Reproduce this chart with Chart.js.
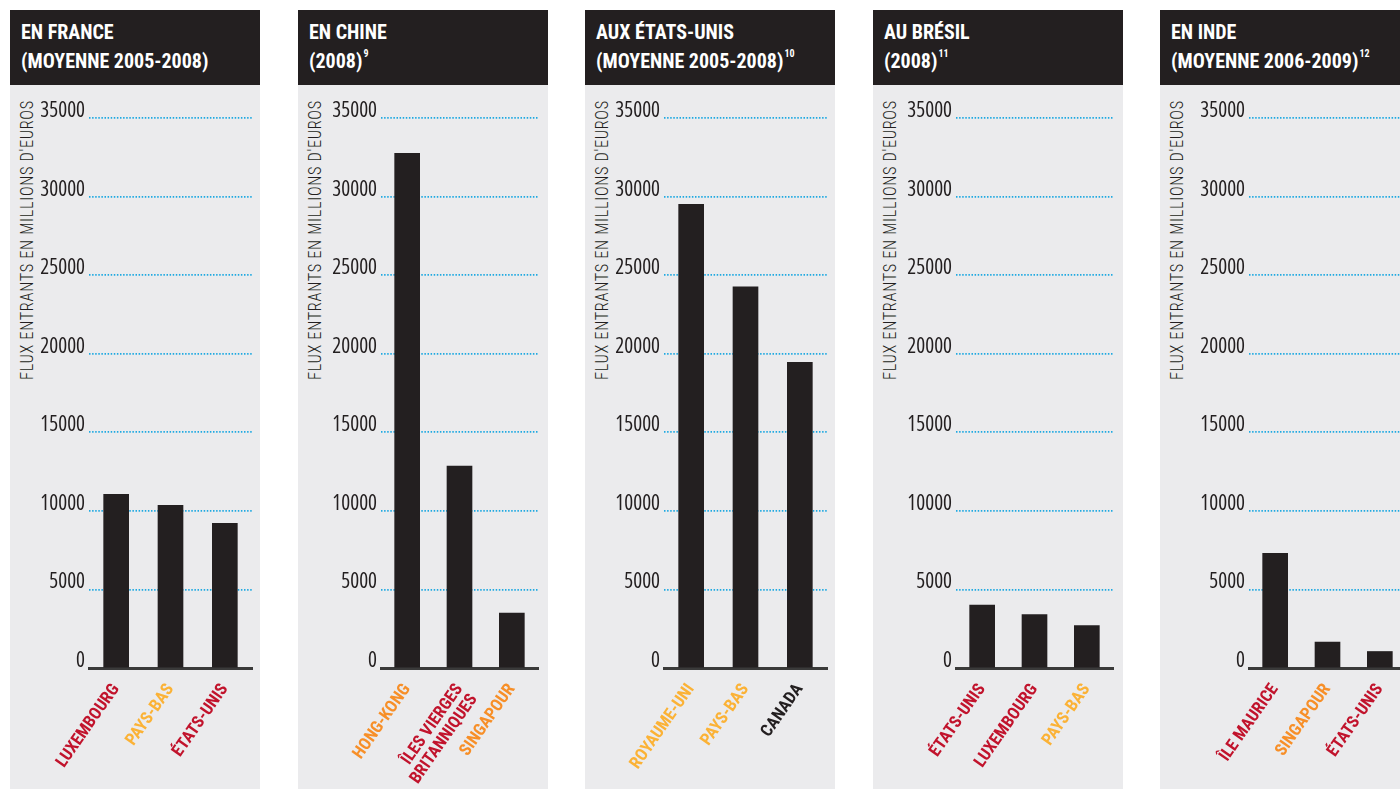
<!DOCTYPE html>
<html lang="fr">
<head>
<meta charset="utf-8">
<title>Flux entrants d'investissements</title>
<script src="https://cdn.jsdelivr.net/npm/chart.js@4.4.1/dist/chart.umd.min.js"></script>
<style>
  html, body { margin: 0; padding: 0; background: #ffffff; width: 1400px; height: 789px; overflow: hidden; }
  .panel { position: absolute; top: 10px; width: 250px; height: 779px; background: #ebebed; }
  .head {
    position: absolute; left: 0; top: 0; width: 250px; height: 75px; box-sizing: border-box;
    padding: 8px 11px; background: #231f20; color: #ffffff;
    font-family: "Roboto", sans-serif; font-stretch: 75%;
    font-weight: bold; font-size: 20px; line-height: 29px; white-space: nowrap;
  }
  .head sup { font-size: 10px; line-height: 0; position: relative; top: -3px; margin-left: 1px; }
  .ytitle {
    position: absolute; left: 0; top: 0; white-space: nowrap; transform-origin: 0 0;
    font-family: "Roboto", sans-serif; font-stretch: 75%; font-weight: 300;
    font-size: 19px; line-height: 20px; letter-spacing: 0.8px; color: #231f20;
  }
  .plot { position: absolute; left: 0; top: 75px; width: 250px; height: 704px; }
</style>
</head>
<body>
<script>
// Panel headings
const titleLines = [
  ["EN FRANCE", "(MOYENNE 2005-2008)"],
  ["EN CHINE", "(2008)"],
  ["AUX ÉTATS-UNIS", "(MOYENNE 2005-2008)"],
  ["AU BRÉSIL", "(2008)"],
  ["EN INDE", "(MOYENNE 2006-2009)"]
];
const titleNotes = ["", "9", "10", "11", "12"];
const axisTitle = "FLUX ENTRANTS EN MILLIONS D'EUROS";

// Source countries per destination
const franceLabels = ["LUXEMBOURG", "PAYS-BAS", "ÉTATS-UNIS"];
const chineLabels  = ["HONG-KONG", ["ÎLES VIERGES", "BRITANNIQUES"], "SINGAPOUR"];
const usaLabels    = ["ROYAUME-UNI", "PAYS-BAS", "CANADA"];
const bresilLabels = ["ÉTATS-UNIS", "LUXEMBOURG", "PAYS-BAS"];
const indeLabels   = ["ÎLE MAURICE", "SINGAPOUR", "ÉTATS-UNIS"];

// Inflows, millions of euros
const franceValues = [11050, 10350, 9200];
const chineValues  = [32750, 12850, 3500];
const usaValues    = [29500, 24250, 19450];
const bresilValues = [4000, 3400, 2700];
const indeValues   = [7300, 1650, 1050];

// Value axis
const yMin = 0;
const yMax = 35000;
const yStep = 5000;

const panels = [
  { labels: franceLabels, values: franceValues },
  { labels: chineLabels,  values: chineValues },
  { labels: usaLabels,    values: usaValues },
  { labels: bresilLabels, values: bresilValues },
  { labels: indeLabels,   values: indeValues }
];

// Layout: panel left edge and plot-area bounds inside each panel
const panelLeft = [10, 298, 585, 873, 1160];
const plotBounds = [[79, 242], [83, 240], [79, 242], [83, 240], [89, 246]];
// Vertical axis title: runs from y=370 up to y=90 inside the panel, centred on x=17
const titleSpan = { x: 17, bottom: 370, length: 280 };

const RED = "#c1132c", YELLOW = "#fbb236", ORANGE = "#f78f28", INK = "#231f20";
const labelColour = {
  "LUXEMBOURG": RED, "ÉTATS-UNIS": RED, "ÎLES VIERGES": RED, "ÎLE MAURICE": RED,
  "PAYS-BAS": YELLOW, "ROYAUME-UNI": YELLOW,
  "HONG-KONG": ORANGE, "SINGAPOUR": ORANGE,
  "CANADA": INK
};
// Canvas font shorthand: the width keyword rides along with the weight
const LABEL_FAMILY = "Roboto, sans-serif";
const TICK_FAMILY = "'Open Sans', sans-serif";

panels.forEach((p, i) => {
  const panel = document.createElement("div");
  panel.className = "panel";
  panel.style.left = panelLeft[i] + "px";

  const head = document.createElement("div");
  head.className = "head";
  head.appendChild(document.createTextNode(titleLines[i][0]));
  head.appendChild(document.createElement("br"));
  head.appendChild(document.createTextNode(titleLines[i][1]));
  if (titleNotes[i]) {
    const sup = document.createElement("sup");
    sup.textContent = titleNotes[i];
    head.appendChild(sup);
  }
  panel.appendChild(head);

  const yt = document.createElement("span");
  yt.className = "ytitle";
  yt.textContent = axisTitle;
  panel.appendChild(yt);

  const box = document.createElement("div");
  box.className = "plot";
  const cv = document.createElement("canvas");
  cv.width = 250; cv.height = 704;
  box.appendChild(cv);
  panel.appendChild(box);
  document.body.appendChild(panel);

  // rotate the axis title and squeeze it to its span
  const w = yt.offsetWidth, h = yt.offsetHeight;
  const k = titleSpan.length / w;
  yt.style.transform = `translate(${titleSpan.x - h / 2}px, ${titleSpan.bottom}px) rotate(-90deg) scaleX(${k})`;

  const [areaLeft, areaRight] = plotBounds[i];

  new Chart(cv, {
    type: "bar",
    data: {
      labels: p.labels,
      datasets: [{
        data: p.values,
        backgroundColor: INK,
        borderWidth: 0,
        barThickness: 25
      }]
    },
    options: {
      responsive: false,
      animation: false,
      devicePixelRatio: 1,
      layout: { padding: { top: 33, right: 250 - areaRight, left: 0, bottom: 0 } },
      plugins: { legend: { display: false }, tooltip: { enabled: false } },
      scales: {
        x: {
          offset: true,
          grid: { display: false, drawTicks: false },
          border: { display: true, color: "#3a3a3a", width: 3 },
          ticks: {
            autoSkip: false,
            minRotation: 55,
            maxRotation: 55,
            padding: 13,
            font: { family: LABEL_FAMILY, weight: "bold condensed", size: 17, lineHeight: 1.05 },
            color: ctx => {
              const l = p.labels[ctx.index];
              return labelColour[Array.isArray(l) ? l[0] : l] || INK;
            }
          },
          afterFit: s => { s.height = 121; }
        },
        y: {
          min: yMin,
          max: yMax,
          ticks: {
            stepSize: yStep,
            padding: 4,
            labelOffset: -7,
            color: INK,
            font: { family: TICK_FAMILY, weight: "500 condensed", size: 21 },
            callback: v => String(v)
          },
          grid: { color: "#1fa9e1", lineWidth: 1.7, drawTicks: false },
          border: { display: false, dash: [1.5, 1.6] },
          afterFit: s => { s.width = areaLeft; }
        }
      }
    }
  });
});
</script>
</body>
</html>
